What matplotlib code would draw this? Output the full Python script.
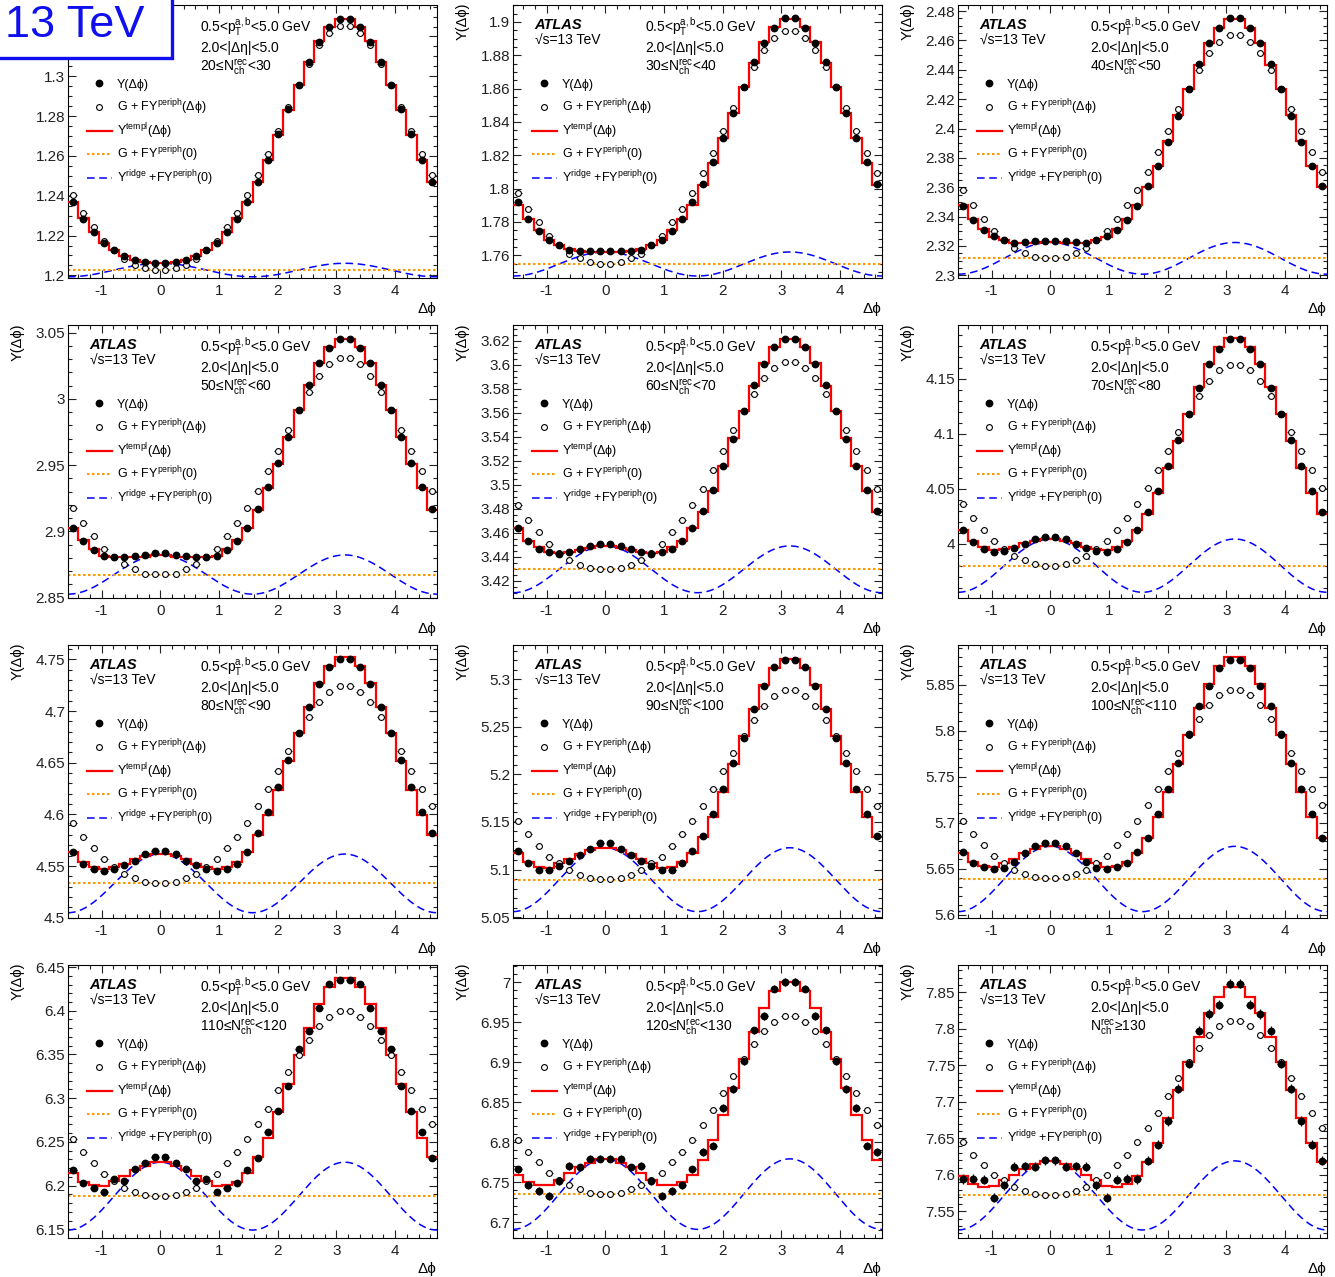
import numpy as np
import matplotlib
matplotlib.use("Agg")
import matplotlib.pyplot as plt
from matplotlib.ticker import MultipleLocator, AutoMinorLocator, FuncFormatter
from matplotlib.patches import Rectangle

plt.rcParams['font.family'] = ['Liberation Sans', 'DejaVu Sans']
plt.rcParams['mathtext.fontset'] = 'custom'
plt.rcParams['mathtext.rm'] = 'Liberation Sans'
plt.rcParams['mathtext.it'] = 'Liberation Sans:italic'
plt.rcParams['mathtext.bf'] = 'Liberation Sans:bold'
plt.rcParams['mathtext.default'] = 'rm'
plt.rcParams['axes.unicode_minus'] = False

# 36 bins over [-pi/2, 3pi/2]; the arrays below hold the 18 bins in [0, pi],
# the rest follows from the symmetry of the correlation about 0 and pi
edges = np.linspace(-np.pi / 2, 1.5 * np.pi, 37)
centers = 0.5 * (edges[1:] + edges[:-1])

nch_labels = [
    r"20≤N$_{ch}^{rec}$<30", r"30≤N$_{ch}^{rec}$<40", r"40≤N$_{ch}^{rec}$<50",
    r"50≤N$_{ch}^{rec}$<60", r"60≤N$_{ch}^{rec}$<70", r"70≤N$_{ch}^{rec}$<80",
    r"80≤N$_{ch}^{rec}$<90", r"90≤N$_{ch}^{rec}$<100", r"100≤N$_{ch}^{rec}$<110",
    r"110≤N$_{ch}^{rec}$<120", r"120≤N$_{ch}^{rec}$<130", r"N$_{ch}^{rec}$≥130",
]

# Y(dphi), measured
y_data = [
    [1.2062, 1.2065, 1.2077, 1.2095, 1.2128, 1.2162, 1.2220, 1.2283, 1.2370, 1.2470, 1.2582, 1.2708, 1.2838, 1.2958, 1.3070, 1.3170, 1.3248, 1.3288],
    [1.7624, 1.7624, 1.7628, 1.7634, 1.7662, 1.7694, 1.7744, 1.7815, 1.7919, 1.8025, 1.8158, 1.8306, 1.8455, 1.8609, 1.8761, 1.8876, 1.8966, 1.9022],
    [2.3233, 2.3231, 2.3224, 2.3222, 2.3238, 2.3270, 2.3310, 2.3380, 2.3471, 2.3607, 2.3745, 2.3910, 2.4087, 2.4271, 2.4438, 2.4579, 2.4687, 2.4751],
    [2.8837, 2.8820, 2.8812, 2.8804, 2.8804, 2.8814, 2.8857, 2.8930, 2.9028, 2.9169, 2.9335, 2.9516, 2.9713, 2.9914, 3.0108, 3.0271, 3.0387, 3.0455],
    [3.4508, 3.4492, 3.4467, 3.4444, 3.4422, 3.4439, 3.4467, 3.4533, 3.4639, 3.4781, 3.4956, 3.5161, 3.5386, 3.5619, 3.5831, 3.6011, 3.6150, 3.6219],
    [4.0064, 4.0048, 4.0003, 3.9961, 3.9936, 3.9927, 3.9955, 4.0018, 4.0124, 4.0288, 4.0479, 4.0706, 4.0942, 4.1185, 4.1421, 4.1633, 4.1773, 4.1867],
    [4.5642, 4.5616, 4.5552, 4.5506, 4.5468, 4.5452, 4.5468, 4.5516, 4.5639, 4.5819, 4.6026, 4.6261, 4.6529, 4.6784, 4.7039, 4.7261, 4.7426, 4.7500],
    [5.1275, 5.1215, 5.1149, 5.1089, 5.1036, 5.0991, 5.0998, 5.1068, 5.1191, 5.1349, 5.1580, 5.1843, 5.2120, 5.2383, 5.2691, 5.2930, 5.3126, 5.3207],
    [5.6783, 5.6750, 5.6674, 5.6576, 5.6507, 5.6493, 5.6514, 5.6558, 5.6681, 5.6833, 5.7094, 5.7366, 5.7649, 5.7967, 5.8264, 5.8482, 5.8685, 5.8768],
    [6.2333, 6.2257, 6.2192, 6.2048, 6.2078, 6.1926, 6.1971, 6.2032, 6.2177, 6.2318, 6.2610, 6.2857, 6.3139, 6.3568, 6.3770, 6.4036, 6.4310, 6.4348],
    [6.7794, 6.7794, 6.7682, 6.7699, 6.7512, 6.7324, 6.7387, 6.7458, 6.7657, 6.7874, 6.7957, 6.8427, 6.8664, 6.9009, 6.9396, 6.9579, 6.9920, 7.0003],
    [7.6201, 7.6115, 7.6119, 7.6115, 7.5855, 7.5687, 7.5933, 7.5942, 7.5942, 7.6197, 7.6415, 7.6739, 7.7180, 7.7522, 7.7973, 7.8205, 7.8332, 7.8619],
]
y_err = [0.0003, 0.0005, 0.0006, 0.0007, 0.0008, 0.0009, 0.0011, 0.0013, 0.0016, 0.0023, 0.0046, 0.0064]

# G + F*Y_periph(dphi)
y_periph = [
    [1.2028, 1.2037, 1.2053, 1.2083, 1.2128, 1.2175, 1.2242, 1.2315, 1.2403, 1.2502, 1.2608, 1.2727, 1.2845, 1.2958, 1.3062, 1.3155, 1.3218, 1.3255],
    [1.7550, 1.7558, 1.7582, 1.7610, 1.7662, 1.7716, 1.7797, 1.7879, 1.7975, 1.8091, 1.8216, 1.8348, 1.8481, 1.8609, 1.8729, 1.8834, 1.8906, 1.8946],
    [2.3118, 2.3125, 2.3149, 2.3183, 2.3238, 2.3301, 2.3385, 2.3476, 2.3582, 2.3707, 2.3840, 2.3985, 2.4130, 2.4271, 2.4397, 2.4511, 2.4592, 2.4640],
    [2.8676, 2.8681, 2.8714, 2.8752, 2.8804, 2.8867, 2.8963, 2.9061, 2.9174, 2.9308, 2.9453, 2.9607, 2.9765, 2.9914, 3.0052, 3.0173, 3.0261, 3.0309],
    [3.4303, 3.4308, 3.4336, 3.4378, 3.4436, 3.4506, 3.4606, 3.4706, 3.4831, 3.4967, 3.5122, 3.5286, 3.5456, 3.5619, 3.5756, 3.5889, 3.5978, 3.6028],
    [3.9803, 3.9815, 3.9852, 3.9891, 3.9952, 4.0024, 4.0124, 4.0233, 4.0364, 4.0509, 4.0673, 4.0842, 4.1021, 4.1185, 4.1342, 4.1479, 4.1579, 4.1630],
    [4.5335, 4.5348, 4.5384, 4.5426, 4.5490, 4.5568, 4.5677, 4.5784, 4.5916, 4.6077, 4.6242, 4.6423, 4.6613, 4.6784, 4.6945, 4.7084, 4.7187, 4.7242],
    [5.0896, 5.0910, 5.0945, 5.0991, 5.1065, 5.1135, 5.1243, 5.1370, 5.1506, 5.1671, 5.1843, 5.2032, 5.2225, 5.2408, 5.2572, 5.2723, 5.2828, 5.2888],
    [5.6399, 5.6406, 5.6438, 5.6489, 5.6565, 5.6641, 5.6757, 5.6880, 5.7022, 5.7188, 5.7370, 5.7562, 5.7761, 5.7953, 5.8123, 5.8279, 5.8391, 5.8446],
    [6.1884, 6.1892, 6.1930, 6.1975, 6.2048, 6.2131, 6.2257, 6.2382, 6.2530, 6.2705, 6.2880, 6.3089, 6.3295, 6.3489, 6.3667, 6.3827, 6.3933, 6.3994],
    [6.7354, 6.7362, 6.7408, 6.7458, 6.7528, 6.7616, 6.7745, 6.7882, 6.8027, 6.8215, 6.8406, 6.8618, 6.8830, 6.9042, 6.9221, 6.9388, 6.9508, 6.9571],
    [7.5719, 7.5737, 7.5778, 7.5832, 7.5924, 7.6005, 7.6142, 7.6279, 7.6452, 7.6643, 7.6852, 7.7085, 7.7321, 7.7540, 7.7731, 7.7913, 7.8032, 7.8105],
]

# Y_templ(dphi), template fit
y_templ = [
    [1.2061, 1.2066, 1.2075, 1.2095, 1.2128, 1.2163, 1.2220, 1.2286, 1.2370, 1.2469, 1.2579, 1.2705, 1.2833, 1.2958, 1.3074, 1.3177, 1.3247, 1.3288],
    [1.7621, 1.7620, 1.7628, 1.7635, 1.7662, 1.7691, 1.7751, 1.7817, 1.7904, 1.8020, 1.8154, 1.8302, 1.8456, 1.8609, 1.8754, 1.8880, 1.8968, 1.9017],
    [2.3224, 2.3219, 2.3218, 2.3220, 2.3238, 2.3264, 2.3316, 2.3382, 2.3476, 2.3601, 2.3746, 2.3916, 2.4093, 2.4271, 2.4434, 2.4580, 2.4686, 2.4746],
    [2.8822, 2.8809, 2.8809, 2.8803, 2.8804, 2.8816, 2.8868, 2.8933, 2.9028, 2.9162, 2.9325, 2.9512, 2.9714, 2.9914, 3.0103, 3.0268, 3.0389, 3.0455],
    [3.4495, 3.4477, 3.4461, 3.4445, 3.4436, 3.4439, 3.4481, 3.4537, 3.4639, 3.4775, 3.4953, 3.5161, 3.5389, 3.5619, 3.5823, 3.6014, 3.6147, 3.6220],
    [4.0041, 4.0025, 4.0008, 3.9974, 3.9952, 3.9941, 3.9968, 4.0023, 4.0126, 4.0271, 4.0463, 4.0686, 4.0938, 4.1185, 4.1425, 4.1635, 4.1789, 4.1868],
    [4.5615, 4.5594, 4.5567, 4.5523, 4.5490, 4.5471, 4.5494, 4.5538, 4.5636, 4.5797, 4.5996, 4.6240, 4.6516, 4.6784, 4.7042, 4.7267, 4.7433, 4.7522],
    [5.1227, 5.1201, 5.1161, 5.1106, 5.1065, 5.1020, 5.1027, 5.1079, 5.1175, 5.1340, 5.1552, 5.1816, 5.2110, 5.2408, 5.2687, 5.2939, 5.3119, 5.3219],
    [5.6749, 5.6713, 5.6666, 5.6610, 5.6565, 5.6520, 5.6529, 5.6573, 5.6672, 5.6838, 5.7063, 5.7334, 5.7640, 5.7953, 5.8244, 5.8507, 5.8698, 5.8796],
    [6.2266, 6.2228, 6.2179, 6.2108, 6.2048, 6.1998, 6.2008, 6.2046, 6.2148, 6.2323, 6.2544, 6.2840, 6.3162, 6.3489, 6.3800, 6.4076, 6.4269, 6.4376],
    [6.7788, 6.7744, 6.7691, 6.7609, 6.7528, 6.7465, 6.7462, 6.7500, 6.7593, 6.7781, 6.8024, 6.8335, 6.8679, 6.9042, 6.9372, 6.9671, 6.9890, 7.0005],
    [7.6185, 7.6147, 7.6082, 7.5994, 7.5924, 7.5843, 7.5838, 7.5869, 7.5986, 7.6177, 7.6442, 7.6781, 7.7159, 7.7540, 7.7893, 7.8217, 7.8442, 7.8571],
]

# G + F*Y_periph(0) and the v22 modulation amplitude of the ridge
ridge_base = [1.2027, 1.7548, 2.3116, 2.8674, 3.4297, 3.9803, 4.5332, 5.0893, 5.6388, 6.1880, 6.7349, 7.5719]
ridge_amp = [0.0034, 0.0072, 0.0108, 0.0148, 0.0195, 0.0242, 0.0284, 0.0336, 0.0355, 0.0388, 0.0441, 0.0473]

# axis ranges and tick spacing
y_lims = [(1.1987, 1.3358), (1.7464, 1.9101), (2.2982, 2.4841), (2.8497, 3.0558),
          (3.4058, 3.6333), (3.9509, 4.1990), (4.4997, 4.7639), (5.0490, 5.3361),
          (5.5964, 5.8931), (6.1401, 6.4523), (6.6800, 7.0215), (7.5136, 7.8874)]
y_major = [0.02, 0.02, 0.02, 0.05, 0.02, 0.05, 0.05, 0.05, 0.05, 0.05, 0.05, 0.05]
y_minor = [4, 4, 4, 5, 4, 5, 5, 5, 5, 5, 5, 5]

RED = '#ff0000'
BLUE = '#0000ff'
ORANGE = '#ff9900'


def unfold(half):
    half = np.asarray(half)
    return np.concatenate([half[8::-1], half, half[:8:-1]])


def tick_fmt(limit):
    # labels above `limit` sit under the energy tag and are left out
    return FuncFormatter(lambda v, p: f"{v:g}" if v < limit else "")


W, H = 1335, 1277
fig = plt.figure(figsize=(W / 100, H / 100), dpi=100)
x_fine = np.linspace(-np.pi / 2, 1.5 * np.pi, 400)

legend_y_mark = [0.713, 0.625, 0.540, 0.453, 0.367]
legend_y_text = [0.697, 0.609, 0.524, 0.438, 0.350]
legend_labels = [r"Y(Δϕ)", r"G + FY$^{periph}$(Δϕ)", r"Y$^{templ}$(Δϕ)",
                 r"G + FY$^{periph}$(0)", r"Y$^{ridge}$ +FY$^{periph}$(0)"]

for i in range(12):
    r, c = divmod(i, 3)
    ax = fig.add_axes([(445 * c + 68) / W, 1 - (320 * r + 5 + 273) / H, 369 / W, 273 / H])

    ax.plot(x_fine, ridge_base[i] + ridge_amp[i] * np.cos(2 * x_fine),
            color=BLUE, ls=(0, (5, 3)), lw=1.1, zorder=2)
    ax.axhline(ridge_base[i], color=ORANGE, ls=(0, (1.2, 1.2)), lw=1.5, zorder=2)
    ax.stairs(unfold(y_templ[i]), edges, baseline=None, color=RED, lw=1.6, zorder=3)
    ax.errorbar(centers, unfold(y_periph[i]), xerr=0.065, fmt='o', ms=4.2,
                mfc='white', mec='k', mew=0.8, ecolor='k', elinewidth=0.8,
                capsize=0, zorder=4)
    ax.errorbar(centers, unfold(y_data[i]), xerr=0.065, yerr=y_err[i], fmt='o',
                ms=4.6, color='k', elinewidth=0.9, capsize=0, zorder=5)

    ax.set_xlim(-np.pi / 2, 1.5 * np.pi)
    ax.set_ylim(*y_lims[i])
    ax.xaxis.set_major_locator(MultipleLocator(1))
    ax.xaxis.set_minor_locator(MultipleLocator(0.2))
    ax.yaxis.set_major_locator(MultipleLocator(y_major[i]))
    ax.yaxis.set_minor_locator(AutoMinorLocator(y_minor[i]))
    ax.yaxis.set_major_formatter(tick_fmt(1.31 if i == 0 else 99.0))
    ax.xaxis.set_major_formatter(FuncFormatter(lambda v, p: f"{v:g}"))
    ax.tick_params(which='both', direction='in', top=True, right=True,
                   labelsize=11, width=0.8, colors='#222222')
    ax.tick_params(axis='y', which='both', pad=2)
    ax.tick_params(axis='x', which='both', pad=4)
    ax.tick_params(which='major', length=5.8)
    ax.tick_params(which='minor', length=2.9)
    for s in ax.spines.values():
        s.set_linewidth(0.8)

    tr = ax.transAxes
    # the first panel carries the energy tag in that corner instead
    if i > 0:
        ax.text(0.058, 0.911, "ATLAS", transform=tr, fontsize=10.5,
                fontweight='bold', fontstyle='italic', va='baseline')
        ax.text(0.060, 0.856, "√s=13 TeV", transform=tr, fontsize=10, va='baseline')
        fig.text((445 * c + 18) / W, 1 - (320 * r + 3) / H, "Y(Δϕ)", rotation=90,
                 ha='center', va='top', fontsize=10.5)
    ax.text(0.358, 0.902, r"0.5<p$_{T}^{a,b}$<5.0 GeV", transform=tr,
            fontsize=10, va='baseline')
    ax.text(0.358, 0.829, "2.0<|Δη|<5.0", transform=tr, fontsize=10, va='baseline')
    ax.text(0.358, 0.759, nch_labels[i], transform=tr, fontsize=10, va='baseline')

    # legend block
    kw = dict(transform=tr, clip_on=False)
    ax.plot([0.084], [legend_y_mark[0]], 'o', color='k', ms=4.6, **kw)
    ax.plot([0.084], [legend_y_mark[1]], 'o', mfc='white', mec='k', mew=0.8, ms=4.2, **kw)
    ax.plot([0.052, 0.118], [legend_y_mark[2]] * 2, color=RED, lw=1.6, **kw)
    ax.plot([0.052, 0.118], [legend_y_mark[3]] * 2, color=ORANGE, ls=(0, (1.2, 1.2)), lw=1.5, **kw)
    ax.plot([0.052, 0.118], [legend_y_mark[4]] * 2, color=BLUE, ls=(0, (5, 3)), lw=1.1, **kw)
    for yt, lab in zip(legend_y_text, legend_labels):
        ax.text(0.132, yt, lab, transform=tr, fontsize=9, va='baseline')

    fig.text((445 * c + 436) / W, 1 - (320 * r + 309) / H, "Δϕ",
             ha='right', va='center', fontsize=11)

# energy tag in the top-left corner
fig.patches.append(Rectangle((-4 / W, 1 - 58 / H), 176 / W, 62 / H,
                             transform=fig.transFigure, facecolor='white',
                             edgecolor='#1010ee', lw=2.4, zorder=10))
fig.text(5 / W, 1 - 37 / H, "13 TeV", color='#1010ee', fontsize=32.5,
         ha='left', va='baseline', zorder=11)

fig.savefig("out.png", dpi=100)
